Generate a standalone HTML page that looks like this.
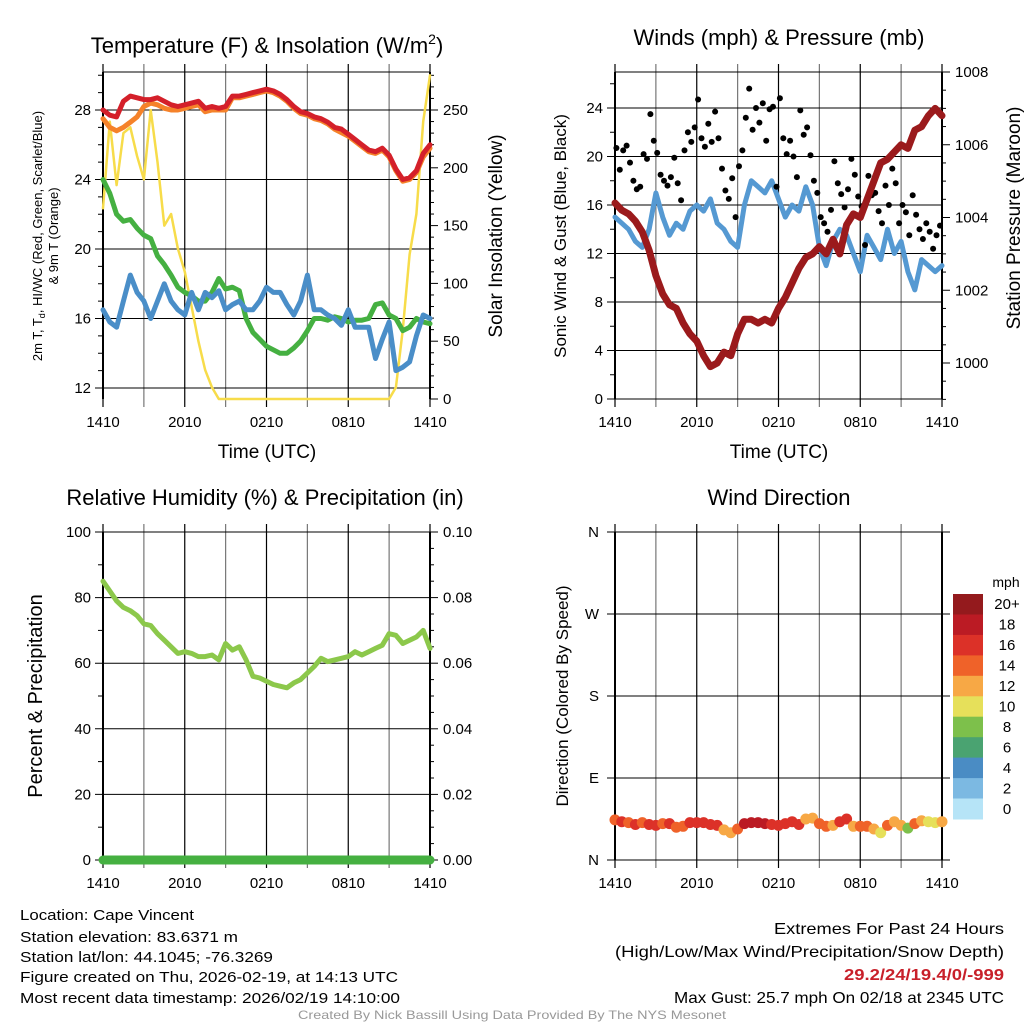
<!DOCTYPE html>
<html><head><meta charset="utf-8"><style>
html,body{margin:0;padding:0;background:#fff;}
svg{display:block;font-family:"Liberation Sans",sans-serif;}
</style></head><body>
<svg id="root" width="1024" height="1024" viewBox="0 0 1024 1024" xmlns="http://www.w3.org/2000/svg">
<rect width="1024" height="1024" fill="#fff"/>
<text x="267" y="53" font-size="22" text-anchor="middle">Temperature (F) &amp; Insolation (W/m<tspan font-size="14" dy="-9">2</tspan><tspan dy="9">)</tspan></text>
<text x="779" y="45" font-size="22" text-anchor="middle">Winds (mph) &amp; Pressure (mb)</text>
<text x="265" y="505" font-size="22" text-anchor="middle">Relative Humidity (%) &amp; Precipitation (in)</text>
<text x="779" y="505" font-size="22" text-anchor="middle">Wind Direction</text>
<g id="g1"></g><g id="g2"></g><g id="g3"></g><g id="g4"></g>
<g font-family="'Liberation Sans Narrow','Liberation Sans',sans-serif" font-size="15">
<text x="20" y="920" textLength="174" lengthAdjust="spacingAndGlyphs">Location: Cape Vincent</text>
<text x="20" y="942" textLength="218" lengthAdjust="spacingAndGlyphs">Station elevation: 83.6371 m</text>
<text x="20" y="962" textLength="253" lengthAdjust="spacingAndGlyphs">Station lat/lon: 44.1045; -76.3269</text>
<text x="20" y="982" textLength="378" lengthAdjust="spacingAndGlyphs">Figure created on Thu, 2026-02-19, at 14:13 UTC</text>
<text x="20" y="1003" textLength="380" lengthAdjust="spacingAndGlyphs">Most recent data timestamp: 2026/02/19 14:10:00</text>
</g>
<g font-family="'Liberation Sans Narrow','Liberation Sans',sans-serif" font-size="16" text-anchor="end">
<text x="1004" y="934" textLength="230" lengthAdjust="spacingAndGlyphs">Extremes For Past 24 Hours</text>
<text x="1004" y="957" textLength="389" lengthAdjust="spacingAndGlyphs">(High/Low/Max Wind/Precipitation/Snow Depth)</text>
<text x="1004" y="980" fill="#c8202a" font-weight="bold" textLength="160" lengthAdjust="spacingAndGlyphs">29.2/24/19.4/0/-999</text>
<text x="1004" y="1003" textLength="330" lengthAdjust="spacingAndGlyphs">Max Gust: 25.7 mph On 02/18 at 2345 UTC</text>
</g>
<text x="512" y="1019" font-family="'Liberation Sans Narrow','Liberation Sans',sans-serif" font-size="12" fill="#999" text-anchor="middle" textLength="428" lengthAdjust="spacingAndGlyphs">Created By Nick Bassill Using Data Provided By The NYS Mesonet</text>
</svg>
<script>
var timeLabels=["1410","2010","0210","0810","1410"];
var tempRed=[28.0,27.7,27.6,28.5,28.8,28.7,28.6,28.6,28.7,28.5,28.3,28.2,28.3,28.4,28.5,28.1,28.2,28.1,28.2,28.8,28.8,28.9,29.0,29.1,29.2,29.1,28.9,28.6,28.2,27.9,27.8,27.6,27.5,27.3,27.0,26.9,26.6,26.3,26.0,25.7,25.6,25.8,25.4,24.6,24.0,24.1,24.5,25.5,26.0];
var temp9m=[27.5,27.0,26.8,27.0,27.3,27.6,28.2,28.4,28.3,28.1,28.0,28.0,28.1,28.2,28.3,27.9,28.0,28.0,28.0,28.7,28.7,28.8,28.9,29.0,29.1,29.0,28.8,28.5,28.1,27.8,27.7,27.5,27.4,27.2,26.9,26.7,26.5,26.2,25.9,25.6,25.5,25.7,25.3,24.5,23.9,24.0,24.4,25.3,25.8];
var dewPoint=[24.0,23.2,22.0,21.6,21.7,21.2,20.8,20.6,19.6,19.1,18.5,17.8,17.5,17.3,17.0,17.0,17.5,18.3,17.7,17.8,17.6,16.0,15.2,14.8,14.4,14.2,14.0,14.0,14.3,14.7,15.3,16.0,16.0,15.9,16.1,16.0,15.8,15.9,15.9,16.0,16.8,16.9,16.2,16.0,15.3,15.5,16.0,15.8,15.7];
var windChill=[16.5,15.8,15.5,17.0,18.5,17.5,17.0,16.0,17.0,18.0,17.0,16.5,16.2,17.5,16.5,17.5,17.2,17.6,16.5,16.8,17.0,16.5,16.5,17.0,17.8,17.5,17.5,16.8,16.2,17.0,18.5,16.5,16.5,16.2,16.0,15.6,16.5,15.5,15.5,15.5,13.7,14.8,15.8,13.0,13.2,13.5,15.0,16.2,16.0];
var solar=[165,240,185,230,235,210,190,250,205,150,160,130,110,80,50,25,10,0,0,0,0,0,0,0,0,0,0,0,0,0,0,0,0,0,0,0,0,0,0,0,0,0,0,10,60,125,160,240,280];
var pressure=[1004.4,1004.2,1004.1,1003.9,1003.6,1003.1,1002.4,1001.9,1001.6,1001.5,1001.1,1000.8,1000.6,1000.2,999.9,1000.0,1000.3,1000.2,1000.8,1001.2,1001.2,1001.1,1001.2,1001.1,1001.5,1001.8,1002.2,1002.6,1002.9,1003.0,1003.2,1003.0,1003.4,1003.0,1003.8,1004.1,1004.0,1004.5,1005.0,1005.5,1005.6,1005.8,1006.0,1005.9,1006.4,1006.5,1006.8,1007.0,1006.8];
var windSpeed=[15,14.5,14,13,12.5,14,17,15,13.5,14.5,14,15.5,16,15.5,16.5,14.5,14,13,12.5,16,18,17.5,17,18,16.5,15,16,15.5,17.5,16,12.5,11,13,14,13.5,12,10.5,13.5,12.5,11.5,14,12,13,10.5,9,11.5,11,10.5,11];
var gust=[20.7,18.9,20.5,20.9,19.5,18.0,17.3,17.5,20.2,19.8,23.5,21.3,20.3,18.5,18.0,17.6,18.3,19.9,17.8,16.4,20.5,22.0,21.2,22.4,24.7,21.5,20.8,22.7,21.2,23.7,21.5,19.0,17.2,16.5,18.2,15.0,19.2,20.5,23.2,25.6,22.2,24.0,22.8,24.4,21.3,23.9,24.1,17.5,24.8,21.5,20.2,21.3,20.0,18.3,23.8,21.8,22.4,20.1,18.0,17.0,15.0,14.5,13.8,15.6,19.6,17.8,16.9,15.8,17.3,19.8,18.5,16.7,15.9,12.7,18.4,16.8,17.0,15.5,14.5,17.6,16.0,19.0,17.8,14.5,16.0,15.4,13.5,16.8,15.2,14.0,13.2,14.5,13.8,12.4,13.5,14.3];
var relHum=[85,82,79,77,76,74.5,72,71.5,69,67,65,63,63.5,63,62,62,62.5,61,66,64,65,61,56,55.5,54.5,53.5,53,52.5,54,55,57,59,61.5,60.5,61,61.5,62,63.5,62.5,63.5,64.5,65.5,69,68.5,66,67,68,70,64.5];
var precip=[0,0,0,0,0,0,0,0,0,0,0,0,0,0,0,0,0,0,0,0,0,0,0,0,0,0,0,0,0,0,0,0,0,0,0,0,0,0,0,0,0,0,0,0,0,0,0,0,0];
var windDir=[44,42,41,39,41,39,38,40,40,36,37,41,41,41,39,38,33,30,34,40,41,41,40,39,38,40,42,39,45,46,40,37,38,42,45,37,37,37,34,30,38,42,38,35,40,43,42,41,42];
var dirSpeed=[14,16,14,16,15,16,17,15,17,14,15,16,17,17,17,16,13,12,15,18,19,18,18,16,17,16,16,17,13,12,14,14,13,16,16,12,14,14,12,10,14,12,13,8,14,12,10,10,12];
var speedBins=["0","2","4","6","8","10","12","14","16","18","20+"];
var binColors=["#b6e4f7","#7cb9e2","#4a8cc4","#4aa371","#7dc04b","#e6e05a","#f7a845","#ef6229","#dc3128","#bb1b24","#941a1d"];

var NS="http://www.w3.org/2000/svg";
function mk(p,tag,attrs){var e=document.createElementNS(NS,tag);for(var k in attrs)e.setAttribute(k,attrs[k]);p.appendChild(e);return e;}
function txt(p,x,y,s,size,anchor,name){var t=mk(p,"text",{x:x,y:y,"font-size":size,"text-anchor":anchor||"middle"});t.textContent=s;


return t;}

function frame(g,P){
  for(var h=0;h<=8;h++){var x=P.x0+h*(P.x1-P.x0)/8;
    var l=mk(g,"line",{x1:x,x2:x,y1:P.y0-8,y2:P.y1+8,stroke:(h%2?"#777":"#000"),"stroke-width":1.2});
    
    
  }
  for(var i=0;i<timeLabels.length;i++){txt(g,P.x0+i*(P.x1-P.x0)/4,P.y1+28,timeLabels[i],15,"middle","x-tick-label");}
  var bx=mk(g,"line",{x1:P.x0,x2:P.x0,y1:P.y0,y2:P.y1,stroke:"#000","stroke-width":2});
  
  
  var br=mk(g,"line",{x1:P.x1,x2:P.x1,y1:P.y0,y2:P.y1,stroke:"#000","stroke-width":2});
  
  
}
function hgrid(g,P,y,label){
  var l=mk(g,"line",{x1:P.x0-8,x2:P.x1,y1:y,y2:y,stroke:"#000","stroke-width":1});
  
  
  if(label!==null) txt(g,P.x0-12,y+5,label,15,"end","y-tick-label");
}
function pathFrom(vals,xf,yf,step){var d="";for(var i=0;i<vals.length;i++){d+=(i?"L":"M")+xf(i*step).toFixed(1)+","+yf(vals[i]).toFixed(1);}return d;}
function addPath(g,d,color,w,name){var p=mk(g,"path",{d:d,fill:"none",stroke:color,"stroke-width":w,"stroke-linejoin":"round","stroke-linecap":"round"});


return p;}
function rot(g,x,y,s,size,name){var t=txt(g,0,0,s,size,"middle",name);t.setAttribute("transform","translate("+x+","+y+") rotate(-90)");return t;}

(function(){
  var g=document.getElementById("g1");var P={x0:103,x1:430,y0:72,y1:399};
  var xs=function(t){return P.x0+t/24*(P.x1-P.x0);};
  var ys=function(v){return 388-(v-12)*(388-110)/16;};
  var yr=function(v){return 399-v*(399-110)/250;};
  frame(g,P);
  var tb=mk(g,"line",{x1:P.x0,x2:P.x1,y1:P.y0,y2:P.y0,stroke:"#000"});
  
  
  [12,16,20,24,28].forEach(function(v){hgrid(g,P,ys(v),String(v));});
  for(var v=12;v<=30;v++){if(v%4){var m=mk(g,"line",{x1:P.x0-5,x2:P.x0,y1:ys(v),y2:ys(v),stroke:"#000"});}}
  for(var s=0;s<=280;s+=10){var w=(s%50==0)?8:4;var m2=mk(g,"line",{x1:P.x1,x2:P.x1+w,y1:yr(s),y2:yr(s),stroke:"#000"});
    if(s%50==0)txt(g,P.x1+13,yr(s)+5,String(s),15,"start","right-tick-label");}
  addPath(g,pathFrom(solar,xs,yr,0.5),"#f7dc4a",2.5,"solar-insolation-line");
  addPath(g,pathFrom(dewPoint,xs,ys,0.5),"#45b041",5,"dewpoint-line");
  addPath(g,pathFrom(windChill,xs,ys,0.5),"#4a8ec8",5,"wind-chill-line");
  addPath(g,pathFrom(temp9m,xs,ys,0.5),"#f5822a",5,"temp-9m-line");
  addPath(g,pathFrom(tempRed,xs,ys,0.5),"#d4202a",5,"temp-2m-line");
  txt(g,267,458,"Time (UTC)",19,"middle","x-axis-title");
  rot(g,42,236,"2m T, T",13,"left-axis-title-line1").innerHTML='2m T, T<tspan font-size="9" dy="3">d</tspan><tspan dy="-3">, HI/WC (Red, Green, Scarlet/Blue)</tspan>';
  rot(g,58,236,"& 9m T (Orange)",13,"left-axis-title-line2");
  rot(g,502,236,"Solar Insolation (Yellow)",19,"right-axis-title");
})();

(function(){
  var g=document.getElementById("g2");var P={x0:615,x1:942,y0:72,y1:399};
  var xs=function(t){return P.x0+t/24*(P.x1-P.x0);};
  var ys=function(v){return 399-v*(399-108)/24;};
  var yp=function(v){return 72+(1008-v)*(363-72)/8;};
  frame(g,P);
  var tb=mk(g,"line",{x1:P.x0,x2:P.x1,y1:P.y0,y2:P.y0,stroke:"#000"});
  
  
  [0,4,8,12,16,20,24].forEach(function(v){hgrid(g,P,ys(v),String(v));});
  for(var v=2;v<=26;v+=4){var m=mk(g,"line",{x1:P.x0-5,x2:P.x0,y1:ys(v),y2:ys(v),stroke:"#000"});}
  for(var p=999;p<=1008;p+=0.5){var major=(p%2==0);var m2=mk(g,"line",{x1:P.x1,x2:P.x1+(major?8:4),y1:yp(p),y2:yp(p),stroke:"#000"});
    if(major)txt(g,P.x1+13,yp(p)+5,String(p),15,"start","right-tick-label");}
  addPath(g,pathFrom(windSpeed,xs,ys,0.5),"#5599d2",5,"sonic-wind-line");
  for(var i=0;i<gust.length;i++){var c=mk(g,"circle",{cx:xs(i*0.25+0.1).toFixed(1),cy:ys(gust[i]).toFixed(1),r:3,fill:"#000"});
    
    }
  addPath(g,pathFrom(pressure,xs,yp,0.5),"#9b1a1c",7,"pressure-line");
  txt(g,779,458,"Time (UTC)",19,"middle","x-axis-title");
  rot(g,566,236,"Sonic Wind & Gust (Blue, Black)",17,"left-axis-title");
  rot(g,1020,218,"Station Pressure (Maroon)",19,"right-axis-title");
})();

(function(){
  var g=document.getElementById("g3");var P={x0:103,x1:430,y0:532,y1:860};
  var xs=function(t){return P.x0+t/24*(P.x1-P.x0);};
  var ys=function(v){return 860-v*(860-532)/100;};
  var yq=function(v){return 860-v*(860-532)/0.1;};
  frame(g,P);
  [0,20,40,60,80,100].forEach(function(v){hgrid(g,P,ys(v),String(v));});
  for(var v=10;v<100;v+=20){var m=mk(g,"line",{x1:P.x0-5,x2:P.x0,y1:ys(v),y2:ys(v),stroke:"#000"});}
  for(var q=0;q<=100;q+=5){var major=(q%20==0);var m2=mk(g,"line",{x1:P.x1,x2:P.x1+(major?8:4),y1:ys(q),y2:ys(q),stroke:"#000"});
    if(major)txt(g,P.x1+13,ys(q)+5,(q/1000).toFixed(2),15,"start","right-tick-label");}
  addPath(g,pathFrom(precip,xs,yq,0.5),"#45b041",9,"precipitation-line");
  addPath(g,pathFrom(relHum,xs,ys,0.5),"#8cc84b",5,"relative-humidity-line");
  rot(g,42,696,"Percent & Precipitation",20,"left-axis-title");
})();

(function(){
  var g=document.getElementById("g4");var P={x0:615,x1:942,y0:532,y1:860};
  var xs=function(t){return P.x0+t/24*(P.x1-P.x0);};
  var ys=function(v){return 860-v*(860-532)/360;};
  frame(g,P);
  var dl=["N","E","S","W","N"];
  for(var i=0;i<5;i++){var y=ys(i*90);var l=mk(g,"line",{x1:P.x0-8,x2:P.x1+8,y1:y,y2:y,stroke:"#000"});
    txt(g,P.x0-16,y+5,dl[i],15,"end","y-tick-label");}
  for(var j=0;j<windDir.length;j++){var b=Math.min(10,Math.floor(dirSpeed[j]/2));
    var c=mk(g,"circle",{cx:xs(j*0.5).toFixed(1),cy:ys(windDir[j]).toFixed(1),r:5.5,fill:binColors[b]});
    
    }
  rot(g,568,696,"Direction (Colored By Speed)",17,"left-axis-title");
  txt(g,1006,587,"mph",14,"middle","colorbar-title");
  var top=594,bh=(819-594)/11;
  for(var k=0;k<11;k++){var idx=10-k;var r=mk(g,"rect",{x:953,y:(top+k*bh).toFixed(1),width:30,height:(bh+0.5).toFixed(1),fill:binColors[idx]});
    
    
    txt(g,1007,top+k*bh+bh/2+5,speedBins[idx],15,"middle","colorbar-label");}
})();
</script>
</body></html>
